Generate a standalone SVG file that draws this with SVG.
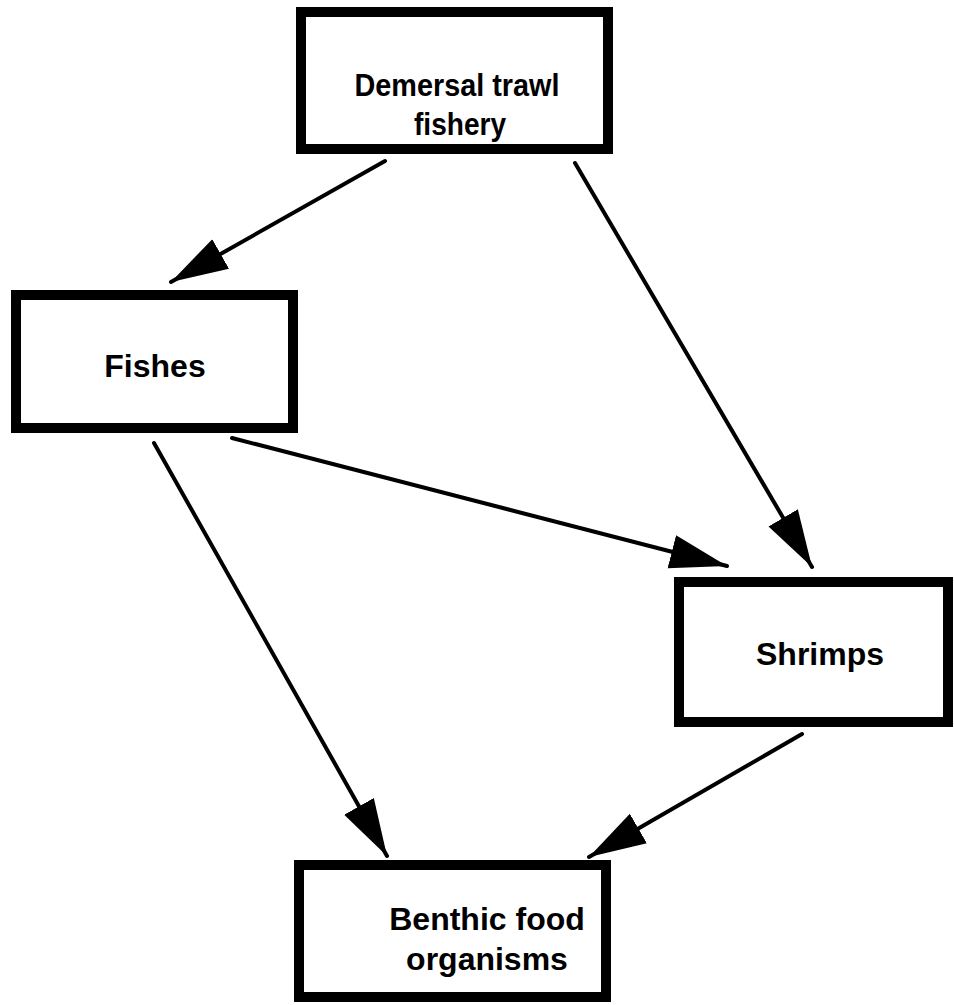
<svg xmlns="http://www.w3.org/2000/svg" width="954" height="1005" viewBox="0 0 954 1005">
<style>
.box{fill:#fff;stroke:#000;stroke-width:10;stroke-linejoin:miter}
.lbl{font-family:"Liberation Sans",Arial,sans-serif;font-weight:bold;font-size:32px;fill:#000;text-anchor:middle}
.edge{stroke:#000;stroke-width:4;stroke-linecap:round;fill:none;marker-end:url(#ah)}
</style>
<defs>
<marker id="ah" markerUnits="userSpaceOnUse" markerWidth="58" markerHeight="36" viewBox="0 0 58 36" refX="57" refY="18" orient="auto">
<path d="M0,1 L57,18 L0,35 Z" fill="#000"/>
</marker>
</defs>
<rect width="954" height="1005" fill="#fff"/>
<g id="connectors">
<line class="edge" x1="385" y1="161" x2="171" y2="282"/>
<line class="edge" x1="575" y1="163" x2="812" y2="567"/>
<line class="edge" x1="232" y1="438" x2="727" y2="566"/>
<line class="edge" x1="154" y1="443" x2="387" y2="856"/>
<line class="edge" x1="802" y1="734" x2="589" y2="857"/>
</g>
<g id="node-fishery">
<rect class="box" x="301" y="12" width="307" height="137"/>
<text class="lbl" x="457" y="96" textLength="205" lengthAdjust="spacingAndGlyphs">Demersal trawl</text>
<text class="lbl" x="460" y="135" textLength="92" lengthAdjust="spacingAndGlyphs">fishery</text>
</g>
<g id="node-fishes">
<rect class="box" x="16" y="295" width="277" height="133"/>
<text class="lbl" x="155" y="377">Fishes</text>
</g>
<g id="node-shrimps">
<rect class="box" x="679" y="582" width="269" height="140"/>
<text class="lbl" x="820" y="665">Shrimps</text>
</g>
<g id="node-benthic">
<rect class="box" x="299" y="865" width="307" height="132"/>
<text class="lbl" x="487" y="930">Benthic food</text>
<text class="lbl" x="487" y="970">organisms</text>
</g>
</svg>
